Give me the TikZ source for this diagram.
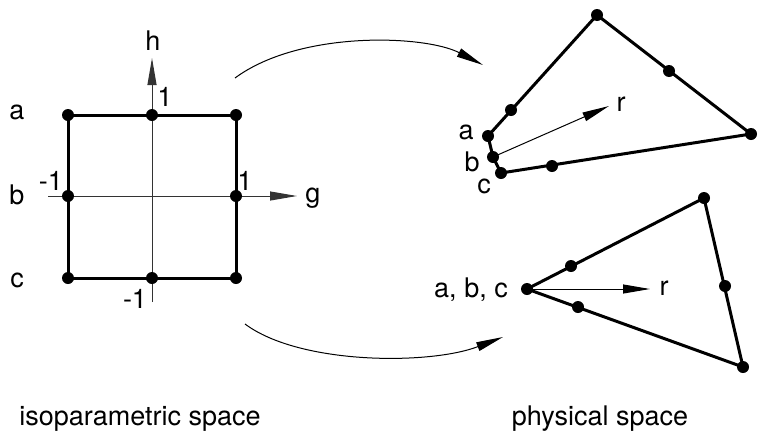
\documentclass[tikz,border=0pt]{standalone}
\usepackage{fontspec}
\setmainfont{TeX Gyre Heros}
\usetikzlibrary{arrows.meta}
\begin{document}
\begin{tikzpicture}[>={Triangle[length=27pt,width=9pt]},x=1pt,y=-1pt,font=\fontsize{27}{32}\selectfont,inner sep=0pt]
                \useasboundingbox (0,0) rectangle (768,445);
                \coordinate (sqa) at (68,115);
                \coordinate (sqam) at (152,115);
                \coordinate (sqar) at (236,115);
                \coordinate (sqb) at (68,196);
                \coordinate (sqbr) at (236,196);
                \coordinate (sqc) at (68,278);
                \coordinate (sqcm) at (152,278);
                \coordinate (sqcr) at (236,278);
                \coordinate (gs) at (48,196);
                \coordinate (ge) at (297,196);
                \coordinate (hs) at (152,302);
                \coordinate (he) at (152,58);
                \draw[->,line width=1pt,black!80](gs)--(ge);
                \draw[->,line width=1pt,black!80](hs)--(he);
                \draw[line width=3pt](sqa)--(sqar)--(sqcr)--(sqc)--cycle;
                \fill (sqa) circle (6pt);
                \fill (sqam) circle (6pt);
                \fill (sqar) circle (6pt);
                \fill (sqb) circle (6pt);
                \fill (sqbr) circle (6pt);
                \fill (sqc) circle (6pt);
                \fill (sqcm) circle (6pt);
                \fill (sqcr) circle (6pt);
                \node (la) at (17,112){a};
                \node (lb) at (17,195){b};
                \node (lc) at (17,280){c};
                \node (lh) at (153,41){h};
                \node (lg) at (313,198){g};
                \node (lhone) at (165,97){1};
                \node (lgone) at (245,181){1};
                \node (lgmin) at (51,181){-1};
                \node (lhmin) at (135,299){-1};
                \coordinate (ta) at (488,136);
                \coordinate (tb) at (493,157);
                \coordinate (tc) at (501,173);
                \coordinate (ttop) at (597,15);
                \coordinate (tright) at (751,134);
                \coordinate (tma) at (511,110);
                \coordinate (tmr) at (669,71);
                \coordinate (tmc) at (552,166);
                \coordinate (tr) at (609,106);
                \draw[line width=3pt](ttop)--(ta)--(tb)--(tc)--(tright)--cycle;
                \draw[->,line width=1pt](tb)--(tr);
                \fill (ta) circle (6pt);
                \fill (tb) circle (6pt);
                \fill (tc) circle (6pt);
                \fill (ttop) circle (6pt);
                \fill (tright) circle (6pt);
                \fill (tma) circle (6pt);
                \fill (tmr) circle (6pt);
                \fill (tmc) circle (6pt);
                \node (lta) at (466,132){a};
                \node (ltb) at (472,162){b};
                \node (ltc) at (484,186){c};
                \node (ltr) at (621,104){r};
                \coordinate (dv) at (527,289);
                \coordinate (dtop) at (704,198);
                \coordinate (dbot) at (743,367);
                \coordinate (dmu) at (571,266);
                \coordinate (dml) at (578,307);
                \coordinate (dmr) at (725,286);
                \coordinate (dr) at (650,289);
                \draw[line width=3pt](dv)--(dtop)--(dbot)--cycle;
                \draw[->,line width=1pt](dv)--(dr);
                \fill (dv) circle (6pt);
                \fill (dtop) circle (6pt);
                \fill (dbot) circle (6pt);
                \fill (dmu) circle (6pt);
                \fill (dml) circle (6pt);
                \fill (dmr) circle (6pt);
                \node (ldv) at (471,290){a, b, c};
                \node (ldr) at (664,288){r};
                \coordinate (mapas) at (235,78);
                \coordinate (mapae) at (483,65);
                \coordinate (mapbs) at (245,324);
                \coordinate (mapbe) at (503,337);
                \draw[->,line width=1pt](mapas) .. controls (300,30) and (425,35) .. (mapae);
                \draw[->,line width=1pt](mapbs) .. controls (300,365) and (430,365) .. (mapbe);
                \node[anchor=base] (liso) at (140,425){isoparametric space};
                \node[anchor=base] (lphys) at (600,425){physical space};
            \end{tikzpicture}
\end{document}
